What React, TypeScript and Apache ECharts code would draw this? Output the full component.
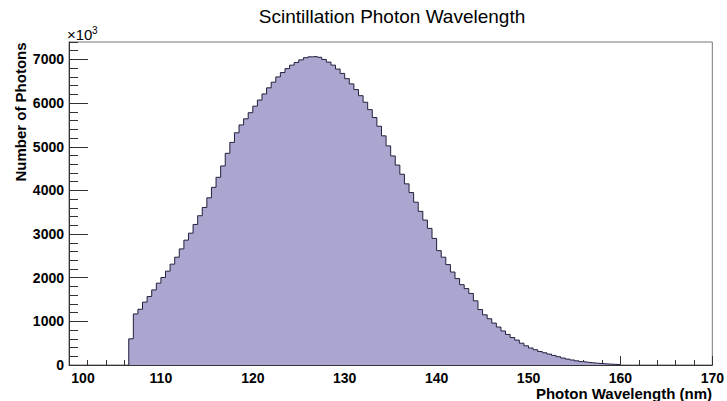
import React, { useEffect, useRef } from "react";
import * as echarts from "echarts";

// Histogram binning (nm)
const binStart = 106.5;
const binWidth = 0.5;
// Photon counts per 0.5 nm bin, from 106.5 nm to 160 nm
const counts = [
  600, 1170, 1277, 1440, 1570, 1720, 1875, 2005, 2150, 2310,
  2470, 2660, 2860, 3020, 3220, 3420, 3610, 3830, 4070, 4300,
  4560, 4850, 5100, 5320, 5500, 5640, 5780, 5930, 6070, 6210,
  6350, 6480, 6600, 6700, 6790, 6870, 6930, 6990, 7040, 7060,
  7070, 7050, 7000, 6940, 6870, 6780, 6680, 6560, 6440, 6310,
  6170, 6020, 5850, 5670, 5470, 5250, 5020, 4790, 4580, 4370,
  4150, 3950, 3730, 3520, 3320, 3130, 2900, 2620, 2470, 2300,
  2130, 1980, 1840, 1750, 1640, 1470, 1270, 1150, 1060, 960,
  870, 780, 700, 630, 570, 500, 440, 390, 350, 310,
  280, 250, 220, 190, 160, 135, 115, 95, 78, 63,
  52, 42, 34, 27, 20, 14, 9,
];
const xRange = [100, 170];
const yRange = [0, 7400];
const title = "Scintillation Photon Wavelength";
const xTitle = "Photon Wavelength (nm)";
const yTitle = "Number of Photons";

const FONT = "'Liberation Sans', Arial, Helvetica, sans-serif";

export default function App() {
  const ref = useRef<HTMLDivElement>(null);
  useEffect(() => {
    if (!ref.current) return;
    const chart = echarts.init(ref.current, null, { renderer: "svg" });
    const data: number[][] = [[binStart, 0]];
    counts.forEach((c, i) => data.push([binStart + i * binWidth, c]));
    data.push([binStart + counts.length * binWidth, 0]);

    const axisColor = "#333";
    chart.setOption({
      animation: false,
      backgroundColor: "#fff",
      grid: {
        left: 69,
        right: 14,
        top: 42,
        bottom: 36,
        show: true,
        borderColor: "#777",
        borderWidth: 1,
        backgroundColor: "transparent",
      },
      xAxis: {
        type: "value",
        min: xRange[0],
        max: xRange[1],
        interval: 10,
        axisLine: { show: true, lineStyle: { color: axisColor } },
        axisTick: { show: true, inside: true, length: 9, lineStyle: { color: axisColor } },
        minorTick: { show: true, splitNumber: 5, length: 5, lineStyle: { color: axisColor } },
        splitLine: { show: false },
        axisLabel: {
          margin: 6,
          color: "#000",
          fontFamily: FONT,
          fontWeight: "bold",
          fontSize: 14,
          formatter: (v: number) => (v === xRange[0] ? "{first|" + v + "}" : String(v)),
          rich: {
            first: {
              padding: [0, 0, 0, 28],
              color: "#000",
              fontFamily: FONT,
              fontWeight: "bold",
              fontSize: 14,
            },
          },
        },
      },
      yAxis: [
        {
          type: "value",
          min: yRange[0],
          max: yRange[1],
          interval: 1000,
          axisLine: { show: true, lineStyle: { color: axisColor } },
          axisTick: { show: true, inside: true, length: 19, lineStyle: { color: axisColor } },
          splitLine: { show: false },
          axisLabel: {
            margin: 5,
            showMaxLabel: false,
            color: "#000",
            fontFamily: FONT,
            fontWeight: "bold",
            fontSize: 14,
            formatter: (v: number) => (v % 1000 === 0 ? String(v) : ""),
          },
        },
        {
          type: "value",
          position: "left",
          min: yRange[0],
          max: yRange[1],
          interval: 200,
          axisLine: { show: false },
          axisTick: { show: true, inside: true, length: 9, lineStyle: { color: axisColor } },
          splitLine: { show: false },
          axisLabel: { show: false },
        },
      ],
      series: [
        {
          type: "line",
          step: "end",
          yAxisIndex: 0,
          symbol: "none",
          data,
          lineStyle: { color: "#20203c", width: 1 },
          areaStyle: { color: "#aaa6cf", opacity: 1 },
          z: 1,
        },
      ],
      graphic: [
        {
          type: "text",
          x: 392,
          y: 16,
          style: {
            text: title,
            font: `19px ${FONT}`,
            fill: "#000",
            textAlign: "center",
            textVerticalAlign: "middle",
          },
        },
        {
          type: "text",
          x: 20,
          y: 112,
          rotation: Math.PI / 2,
          style: {
            text: yTitle,
            font: `bold 15px ${FONT}`,
            fill: "#000",
            textAlign: "center",
            textVerticalAlign: "middle",
          },
        },
        {
          type: "text",
          x: 712,
          y: 393,
          style: {
            text: xTitle,
            font: `bold 15px ${FONT}`,
            fill: "#000",
            textAlign: "right",
            textVerticalAlign: "middle",
          },
        },
        {
          type: "text",
          x: 67,
          y: 42,
          style: {
            text: "×10",
            font: `15px ${FONT}`,
            fill: "#000",
            textAlign: "left",
            textVerticalAlign: "bottom",
          },
        },
        {
          type: "text",
          x: 92,
          y: 25,
          style: {
            text: "3",
            font: `10px ${FONT}`,
            fill: "#000",
            textAlign: "left",
            textVerticalAlign: "top",
          },
        },
      ],
    });
    return () => chart.dispose();
  }, []);
  return <div ref={ref} style={{ width: 727, height: 401, position: "absolute", left: 0, top: 0 }} />;
}
